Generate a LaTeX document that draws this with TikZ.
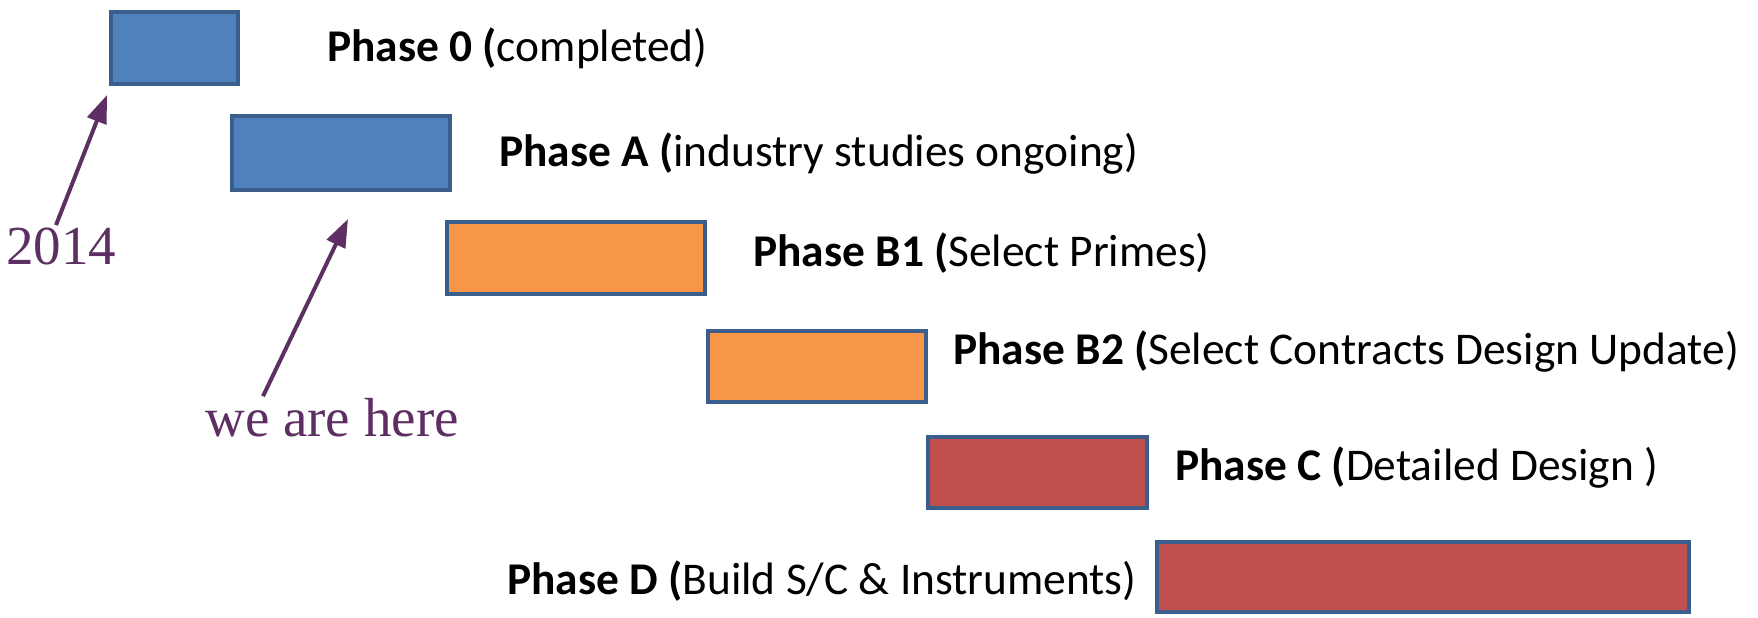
\documentclass[tikz,border=0pt]{standalone}
\usepackage{fontspec}
\setmainfont{Carlito}
\newfontfamily\notefont{Liberation Serif}
\usetikzlibrary{arrows.meta}

\definecolor{barblue}{HTML}{4F81BD}
\definecolor{barorange}{HTML}{F79646}
\definecolor{barred}{HTML}{C0504D}
\definecolor{barline}{HTML}{3B5E8C}
\definecolor{notepurple}{HTML}{5E2F63}

\tikzset{
  bar/.style={draw=barline,line width=2.2pt},
  phase/.style={anchor=west,inner sep=0pt,font=\fontsize{22.7}{25}\selectfont},
  note/.style={inner sep=0pt,text=notepurple,font=\notefont\fontsize{27.5}{30}\selectfont},
  pointer/.style={-{Triangle[length=14pt,width=10pt]},line width=2pt,notepurple}
}

\begin{document}
\begin{tikzpicture}[x=0.5pt,y=-0.5pt]
        \useasboundingbox (0,0) rectangle (1758,617);

        %bars
        \draw[bar,fill=barblue] (111,12) rectangle (238,84);
        \draw[bar,fill=barblue] (232,116) rectangle (450,190);
        \draw[bar,fill=barorange] (447,222) rectangle (705,294);
        \draw[bar,fill=barorange] (708,331) rectangle (926,402);
        \draw[bar,fill=barred] (928,437) rectangle (1147,508);
        \draw[bar,fill=barred] (1157,542) rectangle (1689,612);

        %labels
        \node[phase] (t0) at (327,48) {\textbf{Phase 0 (}completed)};
        \node[phase] (ta) at (499,154) {\textbf{Phase A (}industry studies ongoing)};
        \node[phase] (tb1) at (753,253) {\textbf{Phase B1 (}Select Primes)};
        \node[phase] (tb2) at (953,352) {\textbf{Phase B2 (}Select Contracts Design Update)};
        \node[phase] (tc) at (1175,468) {\textbf{Phase C (}Detailed Design )};
        \node[phase] (td) at (507,581) {\textbf{Phase D (}Build S/C \& Instruments)};

        %notes
        \node[note] (year) at (61,246) {2014};
        \node[note] (here) at (332,418) {we are here};
        \coordinate (yeartip) at (107,95);
        \coordinate (heretip) at (348,219);
        \draw[pointer] (year.north) ++(-5,-2) -- (yeartip);
        \draw[pointer] (here.north) ++(-69,-2) -- (heretip);

    \end{tikzpicture}
\end{document}
